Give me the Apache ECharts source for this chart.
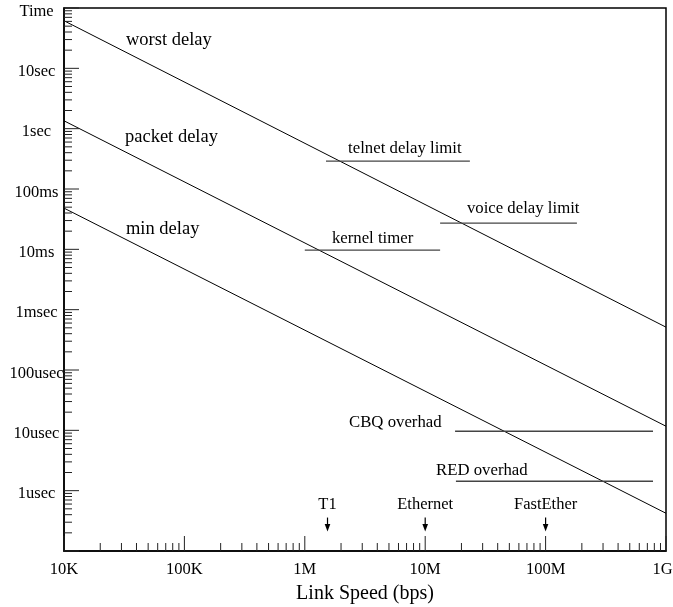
<!DOCTYPE html>
<html>
<head>
<meta charset="utf-8">
<style>html,body{margin:0;padding:0;background:#fff}#c{width:673px;height:607px}</style>
<script src="https://cdn.jsdelivr.net/npm/echarts@6/dist/echarts.min.js"></script>
</head>
<body>
<div id="c"></div>
<script>
// ---- data ----
const X_MIN = 1e4, X_MAX = 1e9;
const Y_MIN = 1e-7, Y_MAX = 1e2;
const xTickLabels = { 4: '10K', 5: '100K', 6: '1M', 7: '10M', 8: '100M', 9: '1G' };
const yTickLabels = { 2: 'Time', 1: '10sec', 0: '1sec', '-1': '100ms', '-2': '10ms', '-3': '1msec', '-4': '100usec', '-5': '10usec', '-6': '1usec', '-7': '' };
const xDecades = [1e4, 1e5, 1e6, 1e7, 1e8];
const yDecades = [1e-7, 1e-6, 1e-5, 1e-4, 1e-3, 1e-2, 1e-1, 1e0, 1e1];
const tickMultipliers = [1, 2, 3, 4, 5, 6, 7, 8, 9];

// delay lines: [link speed bps, time s]
const worstDelay = [[1e4, 61.5], [1e9, 5.13e-4]];
const packetDelay = [[1e4, 1.35], [1e9, 1.17e-5]];
const minDelay = [[1e4, 0.0482], [1e9, 4.22e-7]];

// limits: [from speed, to speed, time]
const telnetLimit = [1.5e6, 23.5e6, 0.29];
const voiceLimit = [13.3e6, 182e6, 0.0272];
const kernelTimer = [1.0e6, 13.3e6, 0.0097];
const cbqOverhead = [17.7e6, 780e6, 9.66e-6];
const redOverhead = [18.0e6, 780e6, 1.43e-6];

// text annotations: [speed, time, text]
const bigNotes = [
  [32.7e3, 29.1, 'worst delay'],
  [32.1e3, 0.72, 'packet delay'],
  [32.7e3, 0.0216, 'min delay']
];
const smallNotes = [
  [2.29e6, 0.466, 'telnet delay limit'],
  [22.2e6, 0.0466, 'voice delay limit'],
  [1.68e6, 0.0150, 'kernel timer'],
  [2.33e6, 13.2e-6, 'CBQ overhad'],
  [12.3e6, 2.17e-6, 'RED overhad']
];
// link speed markers: [speed, label]
const linkMarkers = [[1.544e6, 'T1'], [10e6, 'Ethernet'], [100e6, 'FastEther']];
const markerTipTime = 2.1e-7;
const markerLabelTime = 5.8e-7;

// ---- build ----
const FONT = "'Liberation Serif', 'Times New Roman', serif";
const tickData = [];
xDecades.forEach(d => tickMultipliers.forEach(m => tickData.push([d * m, Y_MIN, m === 1 ? 1 : 0, 0])));
tickData.push([X_MAX, Y_MIN, 1, 0]);
yDecades.forEach(d => tickMultipliers.forEach(m => tickData.push([X_MIN, d * m, m === 1 ? 1 : 0, 1])));
tickData.push([X_MIN, Y_MAX, 1, 1]);

function seg(a) { return [[a[0], a[2]], [a[1], a[2]]]; }
function lineSeries(data, color, width) {
  return { type: 'line', data: data, showSymbol: false, symbol: 'none', silent: true,
    lineStyle: { color: color, width: width }, z: 3 };
}
function textSeries(notes, size) {
  return {
    type: 'custom', silent: true, z: 5,
    data: notes.map(n => [n[0], n[1]]),
    renderItem: (params, api) => {
      const p = api.coord([api.value(0), api.value(1)]);
      return { type: 'text', style: { text: notes[params.dataIndex][2], x: p[0], y: p[1],
        fill: '#000', font: size + 'px ' + FONT, align: 'left', verticalAlign: 'middle' } };
    }
  };
}

const chart = echarts.init(document.getElementById('c'), null, { renderer: 'canvas' });
chart.setOption({
  animation: false,
  backgroundColor: '#fff',
  grid: { left: 64, right: 7, top: 8, bottom: 56, outerBoundsMode: 'none', containLabel: false,
    show: true, borderColor: '#000', borderWidth: 1.5, backgroundColor: 'transparent' },
  xAxis: {
    type: 'log', logBase: 10, min: X_MIN, max: X_MAX,
    name: 'Link Speed (bps)', nameLocation: 'middle', nameGap: 33,
    nameTextStyle: { fontFamily: FONT, fontSize: 20, color: '#000' },
    axisLine: { show: true, lineStyle: { color: '#000', width: 1.5 } },
    axisTick: { show: false }, splitLine: { show: false }, minorTick: { show: false },
    axisLabel: { fontFamily: FONT, fontSize: 16.5, color: '#000', margin: 10,
      rich: { r: { fontFamily: FONT, fontSize: 16.5, color: '#000', padding: [0, 7, 0, 0] } },
      formatter: v => { const k = Math.round(Math.log10(v)); const s = xTickLabels[k] || ''; return k === 9 ? '{r|' + s + '}' : s; } }
  },
  yAxis: {
    type: 'log', logBase: 10, min: Y_MIN, max: Y_MAX,
    axisLine: { show: true, lineStyle: { color: '#000', width: 1.5 } },
    axisTick: { show: false }, splitLine: { show: false }, minorTick: { show: false },
    axisLabel: { fontFamily: FONT, fontSize: 16.5, color: '#000', margin: 27.5, align: 'center',
      verticalAlign: 'top', lineHeight: 7,
      formatter: v => { const k = Math.round(Math.log10(v)); return yTickLabels[k] !== undefined ? yTickLabels[k] : ''; } }
  },
  series: [
    {
      type: 'custom', silent: true, z: 4, clip: false,
      data: tickData,
      renderItem: (params, api) => {
        const p = api.coord([api.value(0), api.value(1)]);
        const len = api.value(2) ? 15 : 8;
        const horiz = api.value(3) === 1;
        return { type: 'line', shape: horiz ? { x1: p[0], y1: p[1], x2: p[0] + len, y2: p[1] }
                                           : { x1: p[0], y1: p[1], x2: p[0], y2: p[1] - len },
          style: { stroke: '#222', lineWidth: 1 } };
      }
    },
    lineSeries(worstDelay, '#000', 1),
    lineSeries(packetDelay, '#000', 1),
    lineSeries(minDelay, '#000', 1),
    lineSeries(seg(telnetLimit), '#444', 1.4),
    lineSeries(seg(voiceLimit), '#444', 1.4),
    lineSeries(seg(kernelTimer), '#444', 1.4),
    lineSeries(seg(cbqOverhead), '#444', 1.4),
    lineSeries(seg(redOverhead), '#444', 1.4),
    textSeries(bigNotes, 18.5),
    textSeries(smallNotes, 16.75),
    {
      type: 'custom', silent: true, z: 5,
      data: linkMarkers.map(m => [m[0], markerTipTime]),
      renderItem: (params, api) => {
        const speed = api.value(0);
        const p = api.coord([speed, markerTipTime]);
        const t = api.coord([speed, markerLabelTime]);
        return { type: 'group', children: [
          { type: 'line', shape: { x1: p[0], y1: p[1] - 14, x2: p[0], y2: p[1] - 6 }, style: { stroke: '#000', lineWidth: 1.2 } },
          { type: 'polygon', shape: { points: [[p[0] - 2.8, p[1] - 7.5], [p[0] + 2.8, p[1] - 7.5], [p[0], p[1]]] }, style: { fill: '#000' } },
          { type: 'text', style: { text: linkMarkers[params.dataIndex][1], x: t[0], y: t[1], fill: '#000',
            font: '16.5px ' + FONT, align: 'center', verticalAlign: 'middle' } }
        ] };
      }
    }
  ]
});
</script>
</body>
</html>
